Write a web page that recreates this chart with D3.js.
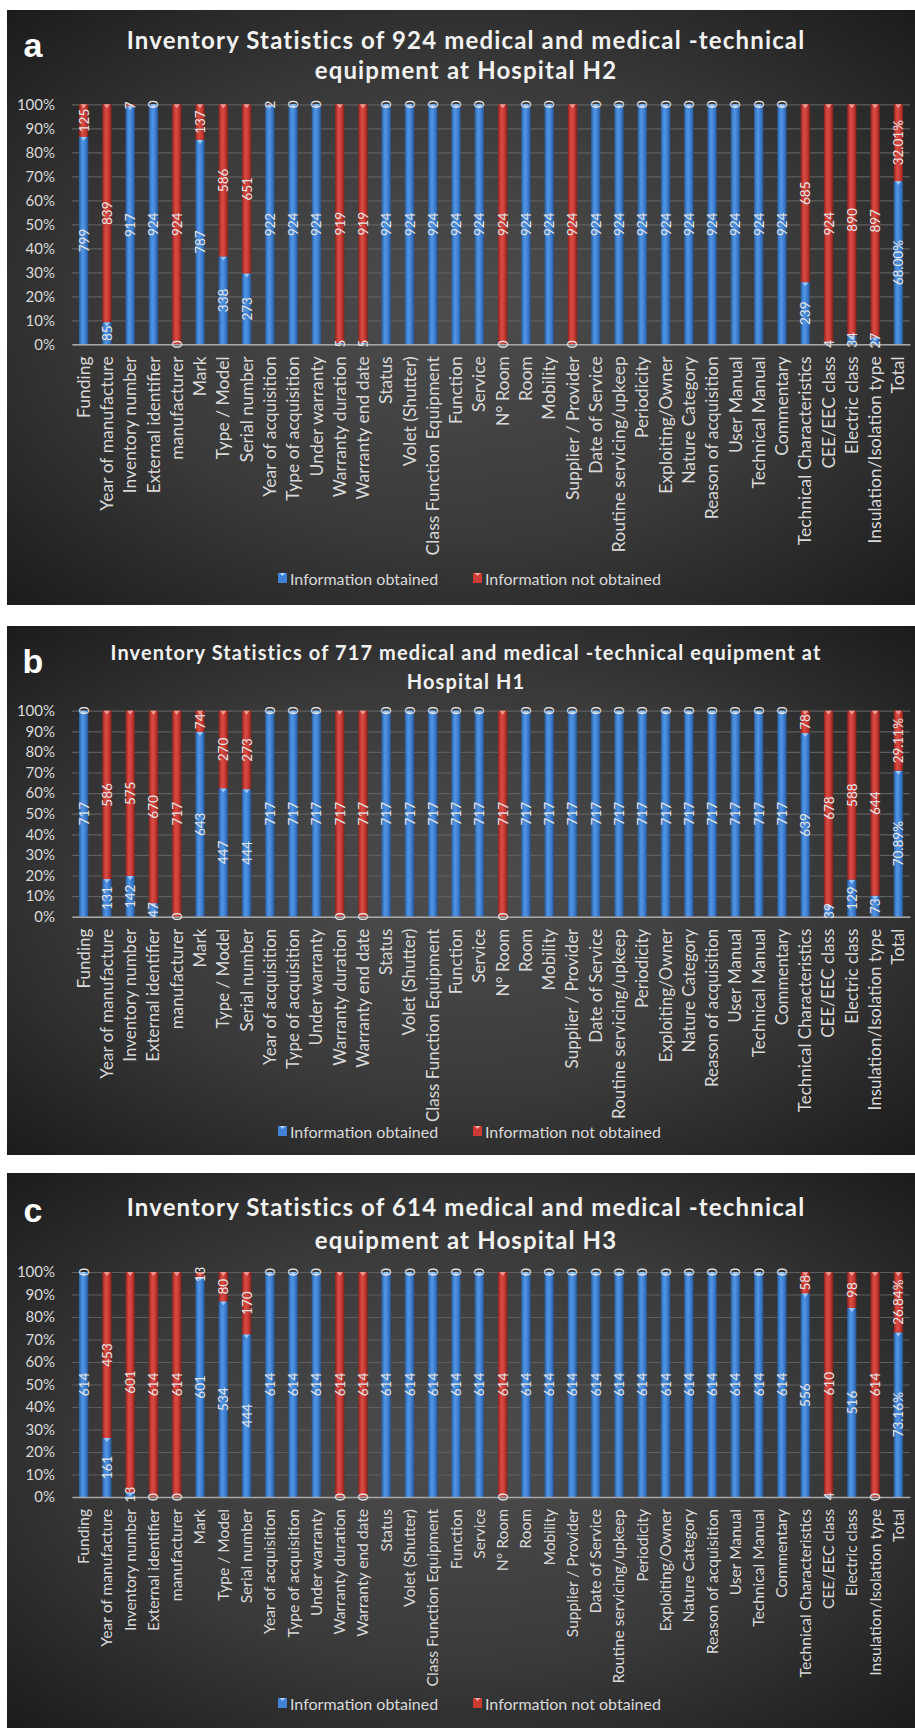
<!DOCTYPE html>
<html>
<head>
<meta charset="utf-8">
<script src="https://cdn.jsdelivr.net/npm/d3@7"></script>
<style>
  body { margin: 0; background: #ffffff; }
  svg { display: block; }
</style>
</head>
<body>
<svg id="chart" width="915" height="1730"></svg>
<script>
// ---- Data -------------------------------------------------------------
const categories = [
  "Funding", "Year of manufacture", "Inventory number", "External identifier",
  "manufacturer", "Mark", "Type / Model", "Serial number", "Year of acquisition",
  "Type of acquisition", "Under warranty", "Warranty duration", "Warranty end date",
  "Status", "Volet (Shutter)", "Class Function Equipment", "Function", "Service",
  "N° Room", "Room", "Mobility", "Supplier / Provider", "Date of Service",
  "Routine servicing/upkeep", "Periodicity", "Exploiting/Owner", "Nature Category",
  "Reason of acquisition", "User Manual", "Technical Manual", "Commentary",
  "Technical Characteristics", "CEE/EEC class", "Electric class",
  "Insulation/Isolation type", "Total"
];

const seriesNames = ["Information obtained", "Information not obtained"];

// Hospital H2 (924 devices); the Total column holds percentages
const h2Obtained = [799, 85, 917, 924, 0, 787, 338, 273, 922, 924, 924, 5, 5,
  924, 924, 924, 924, 924, 0, 924, 924, 0, 924, 924, 924, 924, 924, 924, 924,
  924, 924, 239, 4, 34, 27, 68.00];
const h2NotObtained = [125, 839, 7, 0, 924, 137, 586, 651, 2, 0, 0, 919, 919,
  0, 0, 0, 0, 0, 924, 0, 0, 924, 0, 0, 0, 0, 0, 0, 0,
  0, 0, 685, 924, 890, 897, 32.01];

// Hospital H1 (717 devices)
const h1Obtained = [717, 131, 142, 47, 0, 643, 447, 444, 717, 717, 717, 0, 0,
  717, 717, 717, 717, 717, 0, 717, 717, 717, 717, 717, 717, 717, 717, 717, 717,
  717, 717, 639, 39, 129, 73, 70.89];
const h1NotObtained = [0, 586, 575, 670, 717, 74, 270, 273, 0, 0, 0, 717, 717,
  0, 0, 0, 0, 0, 717, 0, 0, 0, 0, 0, 0, 0, 0, 0, 0,
  0, 0, 78, 678, 588, 644, 29.11];

// Hospital H3 (614 devices)
const h3Obtained = [614, 161, 13, 0, 0, 601, 534, 444, 614, 614, 614, 0, 0,
  614, 614, 614, 614, 614, 0, 614, 614, 614, 614, 614, 614, 614, 614, 614, 614,
  614, 614, 556, 4, 516, 0, 73.16];
const h3NotObtained = [0, 453, 601, 614, 614, 13, 80, 170, 0, 0, 0, 614, 614,
  0, 0, 0, 0, 0, 614, 0, 0, 0, 0, 0, 0, 0, 0, 0, 0,
  0, 0, 58, 610, 98, 614, 26.84];

const percentTicks = [0, 0.1, 0.2, 0.3, 0.4, 0.5, 0.6, 0.7, 0.8, 0.9, 1];
const totalCategory = "Total";

// ---- Panel layout -----------------------------------------------------
const panels = [
  { letter: "a",
    title: ["Inventory Statistics of 924 medical and medical -technical", "equipment at Hospital H2"],
    obtained: h2Obtained, notObtained: h2NotObtained,
    top: 10, bottom: 605, plotTop: 104.3, plotBottom: 344.3,
    letterY: 45, titleY: [39, 69], titleSize: 24, titleSpacing: 1.15,
    catSize: 17.5, legendY: 578 },
  { letter: "b",
    title: ["Inventory Statistics of 717 medical and medical -technical equipment at", "Hospital H1"],
    obtained: h1Obtained, notObtained: h1NotObtained,
    top: 626, bottom: 1155, plotTop: 710.7, plotBottom: 916.7,
    letterY: 661, titleY: [652, 681], titleSize: 20, titleSpacing: 1.1,
    catSize: 17, legendY: 1131 },
  { letter: "c",
    title: ["Inventory Statistics of 614 medical and medical -technical", "equipment at Hospital H3"],
    obtained: h3Obtained, notObtained: h3NotObtained,
    top: 1173, bottom: 1728, plotTop: 1272, plotBottom: 1497,
    letterY: 1210, titleY: [1206, 1239], titleSize: 24, titleSpacing: 1.15,
    catSize: 15.6, legendY: 1703 }
];

const panelLeft = 7, panelRight = 915;
const plotLeft = 72, plotRight = 910;
const FONT = "Lato, 'Open Sans', sans-serif";
const labelColor = "#d9d9d9";

const svg = d3.select("#chart");
const defs = svg.append("defs");

// Dark radial backdrop
const bg = defs.append("radialGradient").attr("id", "bgGrad")
  .attr("cx", "50%").attr("cy", "50%").attr("r", "70%");
bg.append("stop").attr("offset", "0%").attr("stop-color", "#4d4d4d");
bg.append("stop").attr("offset", "55%").attr("stop-color", "#3a3a3a");
bg.append("stop").attr("offset", "100%").attr("stop-color", "#1c1c1c");

// Cylinder-like shading for the bars
function barGradient(id, stops) {
  const g = defs.append("linearGradient").attr("id", id)
    .attr("x1", "0%").attr("x2", "100%").attr("y1", "0%").attr("y2", "0%");
  stops.forEach(([o, c]) => g.append("stop").attr("offset", o).attr("stop-color", c));
}
barGradient("blueBar", [["0%", "#2a5d9f"], ["30%", "#4a8ee0"], ["45%", "#4f93e4"], ["75%", "#3a78c9"], ["100%", "#25548f"]]);
barGradient("redBar", [["0%", "#8e231f"], ["30%", "#d2443c"], ["45%", "#d84a42"], ["75%", "#bf3630"], ["100%", "#842019"]]);

const fills = ["url(#blueBar)", "url(#redBar)"];
const capFills = ["#a9d2ff", "#f4a7a1"];
const legendFills = ["#3f82d6", "#cc3b34"];

const x = d3.scaleBand().domain(categories).range([plotLeft, plotRight]).paddingInner(0.6).paddingOuter(0.3);

function drawPanel(p) {
  const g = svg.append("g");

  g.append("rect")
    .attr("x", panelLeft).attr("y", p.top)
    .attr("width", panelRight - panelLeft).attr("height", p.bottom - p.top)
    .attr("fill", "url(#bgGrad)");

  // Panel letter
  g.append("text")
    .attr("x", 33).attr("y", p.letterY)
    .attr("text-anchor", "middle").attr("dominant-baseline", "central")
    .attr("font-family", "'Liberation Sans', Arial, sans-serif")
    .attr("font-weight", "bold").attr("font-size", 34)
    .attr("fill", "#ffffff").text(p.letter);

  // Title
  p.title.forEach((line, i) => {
    g.append("text")
      .attr("x", 466).attr("y", p.titleY[i])
      .attr("text-anchor", "middle").attr("dominant-baseline", "central")
      .attr("font-family", FONT).attr("font-weight", "bold")
      .attr("font-size", p.titleSize).attr("letter-spacing", p.titleSpacing)
      .attr("fill", "#f2f2f2").text(line);
  });

  const y = d3.scaleLinear().domain([0, 1]).range([p.plotBottom, p.plotTop]);

  // Gridlines
  g.append("g")
    .attr("transform", `translate(${plotLeft},0)`)
    .call(d3.axisLeft(y).tickValues(percentTicks).tickSize(-(plotRight - plotLeft)).tickFormat(""))
    .call(s => s.select(".domain").remove())
    .call(s => s.selectAll("line").attr("stroke", "#5e5e5e").attr("stroke-width", 1.2));

  // Percent axis labels
  g.append("g")
    .attr("transform", `translate(${plotLeft},0)`)
    .call(d3.axisLeft(y).tickValues(percentTicks).tickSize(0).tickPadding(17).tickFormat(d3.format(".0%")))
    .call(s => s.select(".domain").remove())
    .call(s => s.selectAll("text").attr("font-family", FONT).attr("font-size", 15).attr("fill", labelColor));

  // Stack rows as shares of each column
  const rows = categories.map((c, i) => ({ cat: c, 0: p.obtained[i], 1: p.notObtained[i] }));
  const stacked = d3.stack().keys([0, 1]).offset(d3.stackOffsetExpand)(rows);

  stacked.forEach((layer, si) => {
    const lg = g.append("g");
    layer.forEach((d, i) => {
      const cat = categories[i];
      const x0 = x(cat), bw = x.bandwidth();
      const yTop = y(d[1]), yBot = y(d[0]);
      const h = yBot - yTop;
      if (h > 0) {
        lg.append("rect").attr("x", x0).attr("y", yTop)
          .attr("width", bw).attr("height", h).attr("fill", fills[si]);
        const capH = Math.min(4, h);
        lg.append("path")
          .attr("d", `M${x0 + 1.5},${yTop}L${x0 + bw - 1.5},${yTop}L${x0 + bw / 2},${yTop + capH}Z`)
          .attr("fill", capFills[si]).attr("opacity", 0.85);
      }
    });
  });

  // Category axis at 0%
  const xAxis = g.append("g")
    .attr("transform", `translate(0,${p.plotBottom})`)
    .call(d3.axisBottom(x).tickSize(0).tickSizeOuter(0));
  xAxis.select(".domain").attr("stroke", "#a8a8a8").attr("stroke-width", 1.5);
  xAxis.selectAll("text")
    .attr("transform", "rotate(-90)")
    .attr("text-anchor", "end")
    .attr("x", -12).attr("y", 0).attr("dy", "0.35em")
    .attr("font-family", FONT).attr("font-size", p.catSize)
    .attr("fill", labelColor);

  // Value labels centred in each segment
  stacked.forEach((layer, si) => {
    layer.forEach((d, i) => {
      const cat = categories[i];
      const v = si === 0 ? p.obtained[i] : p.notObtained[i];
      const txt = cat === totalCategory ? d3.format(".2f")(v) + "%" : String(v);
      const cx = x(cat) + x.bandwidth() / 2;
      const cy = y((d[0] + d[1]) / 2);
      g.append("text")
        .attr("transform", `translate(${cx},${cy}) rotate(-90)`)
        .attr("text-anchor", "middle").attr("dominant-baseline", "central")
        .attr("font-family", FONT).attr("font-size", 13.5)
        .attr("fill", "#e6e6e6").text(txt);
    });
  });

  // Legend
  const legendX = [[278, 290], [473, 485]];
  seriesNames.forEach((name, si) => {
    const [mx, tx] = legendX[si];
    g.append("rect").attr("x", mx).attr("y", p.legendY - 5)
      .attr("width", 9).attr("height", 10).attr("fill", legendFills[si]);
    g.append("path")
      .attr("d", `M${mx + 1.5},${p.legendY - 5}L${mx + 7.5},${p.legendY - 5}L${mx + 4.5},${p.legendY - 2}Z`)
      .attr("fill", capFills[si]);
    g.append("text").attr("x", tx).attr("y", p.legendY)
      .attr("dominant-baseline", "central")
      .attr("font-family", FONT).attr("font-size", 16)
      .attr("fill", labelColor).text(name);
  });
}

panels.forEach(drawPanel);
</script>
</body>
</html>
